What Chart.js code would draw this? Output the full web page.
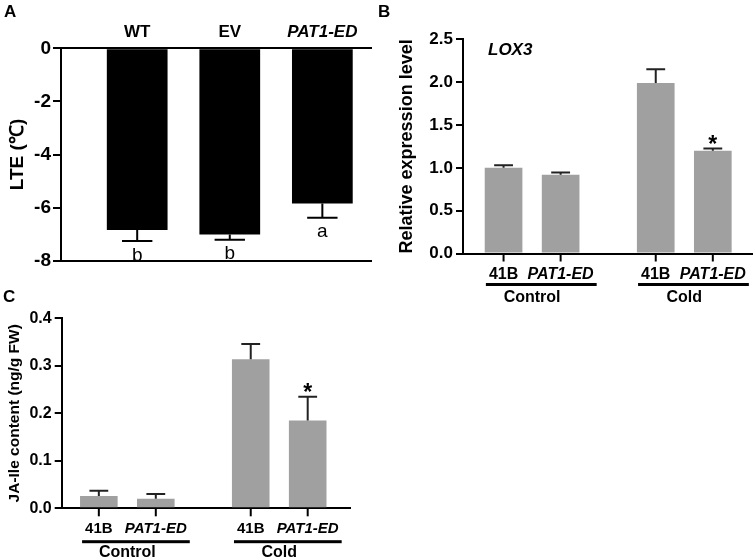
<!DOCTYPE html>
<html><head><meta charset="utf-8">
<script src="https://cdn.jsdelivr.net/npm/chart.js@4"></script>
<style>
html,body{margin:0;padding:0;background:#fff;}
#fig{position:relative;width:755px;height:560px;overflow:hidden;background:#fff;font-family:"Liberation Sans",Arial,sans-serif;}
.panel{position:absolute;}
.lbl{position:absolute;font-weight:bold;font-size:17px;color:#000;line-height:1;}
</style></head><body>
<div id="fig">
  <div class="panel" style="left:0;top:0;"><canvas id="cA" width="375" height="280"></canvas></div>
  <div class="panel" style="left:375px;top:0;"><canvas id="cB" width="380" height="310"></canvas></div>
  <div class="panel" style="left:0;top:285px;"><canvas id="cC" width="375" height="275"></canvas></div>
  <div class="lbl" style="left:4px;top:3px">A</div>
  <div class="lbl" style="left:378px;top:3px">B</div>
  <div class="lbl" style="left:3px;top:288px">C</div>
</div>
<script>
// ---------- data ----------
// Panel A: LTE
const genotypesA = ['WT', 'EV', 'PAT1-ED'];
const lteMean = [-6.84, -7.01, -5.85];
const lteErr = [0.42, 0.20, 0.53];
const lteLetters = ['b', 'b', 'a'];

// Panels B and C: groups and lines
const conditions = ['Control', 'Cold'];
const lineNames = ['41B', 'PAT1-ED'];
const italicNames = ['PAT1-ED'];

// Panel B: LOX3 relative expression
const lox3_41B = [1.00, 1.99];
const lox3_41B_err = [0.03, 0.16];
const lox3_PAT = [0.92, 1.20];
const lox3_PAT_err = [0.025, 0.025];
const lox3_PAT_sig = ['', '*'];

// Panel C: JA-Ile content
const ja_41B = [0.026, 0.314];
const ja_41B_err = [0.011, 0.032];
const ja_PAT = [0.020, 0.185];
const ja_PAT_err = [0.010, 0.050];
const ja_PAT_sig = ['', '*'];

// ---------- helpers ----------
const FAMILY = '"Liberation Sans", Arial, sans-serif';
Chart.defaults.font.family = FAMILY;
Chart.defaults.color = '#000';

const barNotes = {
  id: 'barNotes',
  afterDatasetsDraw(chart, args, o) {
    const {ctx, chartArea} = chart;
    const ys = chart.scales.y;
    ctx.save();
    chart.data.datasets.forEach((ds, di) => {
      const meta = chart.getDatasetMeta(di);
      meta.data.forEach((bar, j) => {
        const v = ds.data[j].y;
        const end = v + Math.sign(v) * ds.errors[j];
        const yEnd = ys.getPixelForValue(end);
        const half = bar.width * o.capRatio / 2;
        ctx.strokeStyle = o.errColor;
        ctx.lineWidth = o.errWidth;
        ctx.beginPath();
        ctx.moveTo(bar.x, bar.y); ctx.lineTo(bar.x, yEnd);
        ctx.moveTo(bar.x - half, yEnd); ctx.lineTo(bar.x + half, yEnd);
        ctx.stroke();
        const note = ds.notes ? ds.notes[j] : '';
        if (note) {
          ctx.fillStyle = '#000';
          ctx.font = o.noteFont;
          ctx.textAlign = 'center';
          ctx.textBaseline = 'alphabetic';
          ctx.fillText(note, bar.x, yEnd + (v < 0 ? o.noteBelow : o.noteAbove));
        }
      });
    });
    if (o.barLabels) {
      const bottom = chartArea.bottom;
      const groups = {};
      chart.data.datasets.forEach((ds, di) => {
        chart.getDatasetMeta(di).data.forEach((bar, j) => {
          ctx.strokeStyle = '#000'; ctx.lineWidth = 2;
          ctx.beginPath(); ctx.moveTo(bar.x, bottom); ctx.lineTo(bar.x, bottom + o.tickLen); ctx.stroke();
          const it = italicNames.includes(ds.label);
          ctx.font = (it ? 'italic ' : '') + 'bold ' + o.labelSize + 'px ' + FAMILY;
          ctx.fillStyle = '#000';
          ctx.textAlign = 'center'; ctx.textBaseline = 'alphabetic';
          ctx.fillText(ds.label, bar.x, bottom + o.labelBase);
          const w = ctx.measureText(ds.label).width;
          const g = groups[j] || (groups[j] = {l: Infinity, r: -Infinity});
          g.l = Math.min(g.l, bar.x - w / 2); g.r = Math.max(g.r, bar.x + w / 2);
        });
      });
      ctx.fillStyle = '#000';
      Object.values(groups).forEach(g => {
        ctx.fillRect(g.l - o.ulExtra, bottom + o.ulY - 1.5, g.r - g.l + 2 * o.ulExtra, 3);
      });
    }
    if (o.corner) {
      ctx.font = 'italic bold ' + o.cornerSize + 'px ' + FAMILY;
      ctx.fillStyle = '#000'; ctx.textAlign = 'left'; ctx.textBaseline = 'alphabetic';
      ctx.fillText(o.corner, chartArea.left + o.cornerDx, chartArea.top + o.cornerDy);
    }
    ctx.restore();
  }
};

const fontFor = (names, size) => c => ({
  size: size, weight: 'bold',
  style: italicNames.includes(names[c.index]) ? 'italic' : 'normal'
});

// ---------- Panel A ----------
new Chart(document.getElementById('cA'), {
  type: 'bar',
  data: {
    datasets: [{
      label: 'LTE',
      data: genotypesA.map((g, i) => ({x: i, y: lteMean[i]})),
      errors: lteErr, notes: lteLetters,
      backgroundColor: '#000', borderWidth: 0,
      categoryPercentage: 0.8, barPercentage: 0.82,
      xAxisID: 'x', yAxisID: 'y'
    }]
  },
  options: {
    responsive: false, animation: false, events: [],
    layout: {padding: {left: 0, right: 3.3, top: 0, bottom: 0}},
    plugins: {
      legend: {display: false}, tooltip: {enabled: false},
      barNotes: {capRatio: 0.5, errColor: '#000', errWidth: 2, noteFont: '19px ' + FAMILY, noteBelow: 19.5, noteAbove: 0}
    },
    scales: {
      x: {
        type: 'linear', position: 'top', min: -0.823, max: 2.533, offset: false,
        afterBuildTicks: s => { s.ticks = genotypesA.map((_, i) => ({value: i})); },
        afterFit: s => { s.height = 48.3; },
        ticks: {callback: (v, i) => genotypesA[i], color: '#000', padding: 6, maxRotation: 0, autoSkip: false,
                font: fontFor(genotypesA, 17)},
        grid: {display: true, drawOnChartArea: false, drawTicks: false},
        border: {display: true, color: '#000', width: 2}
      },
      x2: {
        type: 'linear', position: 'bottom',
        ticks: {display: false},
        grid: {display: true, drawOnChartArea: false, drawTicks: false},
        border: {display: true, color: '#000', width: 2},
        afterFit: s => { s.height = 19.3; }
      },
      y: {
        min: -8, max: 0,
        ticks: {stepSize: 2, color: '#000', font: {size: 19, weight: 'bold'}, padding: 2},
        grid: {display: true, drawOnChartArea: false, drawTicks: true, tickLength: 8, color: '#000', lineWidth: 2},
        border: {display: true, color: '#000', width: 2},
        title: {display: true, text: 'LTE (℃)', color: '#000', font: {size: 19, weight: 'bold'}, padding: {top: 6.6, bottom: 0}},
        afterFit: s => { s.width = 61; }
      }
    }
  },
  plugins: [barNotes]
});

// ---------- Panels B and C ----------
function groupedChart(id, cfg) {
  return new Chart(document.getElementById(id), {
    type: 'bar',
    data: {
      datasets: [
        {label: lineNames[0], data: conditions.map((c, i) => ({x: i, y: cfg.a[i]})), errors: cfg.aErr,
         backgroundColor: '#a0a0a0', borderWidth: 0, categoryPercentage: 0.75, barPercentage: 0.66, xAxisID: 'x', yAxisID: 'y'},
        {label: lineNames[1], data: conditions.map((c, i) => ({x: i, y: cfg.b[i]})), errors: cfg.bErr, notes: cfg.bSig,
         backgroundColor: '#a0a0a0', borderWidth: 0, categoryPercentage: 0.75, barPercentage: 0.66, xAxisID: 'x', yAxisID: 'y'}
      ]
    },
    options: {
      responsive: false, animation: false, events: [],
      layout: {padding: {left: 0, right: cfg.padRight, top: cfg.padTop, bottom: 0}},
      plugins: {
        legend: {display: false}, tooltip: {enabled: false},
        barNotes: {capRatio: 0.5, errColor: '#222', errWidth: 2, noteFont: 'bold 23px ' + FAMILY, noteBelow: 19, noteAbove: 3.5,
                   barLabels: true, tickLen: 8, labelSize: cfg.labelSize, labelBase: cfg.labelBase, ulY: cfg.ulY, ulExtra: 3,
                   corner: cfg.corner, cornerSize: 17, cornerDx: 25, cornerDy: 16}
      },
      scales: {
        x: {
          type: 'linear', position: 'bottom', min: cfg.xMin, max: cfg.xMax, offset: false,
          afterBuildTicks: s => { s.ticks = conditions.map((_, i) => ({value: i})); },
          afterFit: s => { s.height = cfg.xH; },
          ticks: {callback: (v, i) => conditions[i], color: '#000', padding: cfg.groupPad, maxRotation: 0, autoSkip: false,
                  font: {size: cfg.groupSize, weight: 'bold'}},
          grid: {display: true, drawOnChartArea: false, drawTicks: false},
          border: {display: true, color: '#000', width: 2}
        },
        y: {
          min: 0, max: cfg.yMax,
          ticks: {stepSize: cfg.yStep, callback: v => v.toFixed(1), color: '#000', font: {size: cfg.tickSize, weight: 'bold'}, padding: 3},
          grid: {display: true, drawOnChartArea: false, drawTicks: true, tickLength: 7, color: '#000', lineWidth: 2},
          border: {display: true, color: '#000', width: 2},
          title: {display: true, text: cfg.title, color: '#000', font: {size: cfg.titleSize, weight: 'bold'}, padding: {top: cfg.titlePad, bottom: 0}},
          afterFit: s => { s.width = cfg.yW; }
        }
      }
    },
    plugins: [barNotes]
  });
}

groupedChart('cB', {
  a: lox3_41B, aErr: lox3_41B_err, b: lox3_PAT, bErr: lox3_PAT_err, bSig: lox3_PAT_sig,
  padRight: 3, padTop: 39.3, xMin: -0.454, xMax: 1.445, xH: 56.5, yW: 88,
  yMax: 2.5, yStep: 0.5, tickSize: 17, title: 'Relative expression level', titleSize: 18, titlePad: 20.9,
  labelSize: 16, labelBase: 25, groupSize: 16, groupPad: 34, ulY: 31, corner: 'LOX3'
});

groupedChart('cC', {
  a: ja_41B, aErr: ja_41B_err, b: ja_PAT, bErr: ja_PAT_err, bSig: ja_PAT_sig,
  padRight: 25, padTop: 33.3, xMin: -0.432, xMax: 1.466, xH: 51.7, yW: 61.7,
  yMax: 0.4, yStep: 0.1, tickSize: 16, title: 'JA-Ile content (ng/g FW)', titleSize: 15.5, titlePad: 5.7,
  labelSize: 15, labelBase: 25, groupSize: 16, groupPad: 35, ulY: 33.4, corner: ''
});
</script>
</body></html>
